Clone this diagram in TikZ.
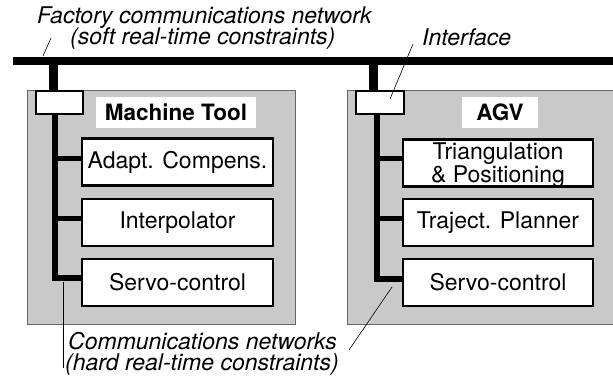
\documentclass[tikz,border=0pt]{standalone}
\usepackage{fontspec}
\setmainfont{TeX Gyre Heros}
\begin{document}
\begin{tikzpicture}[x=1pt,y=-1pt,
  panel/.style={draw=black!60, line width=0.8pt, fill=black!21},
  module/.style={draw, line width=2.4pt, fill=white, inner sep=0pt,
     font=\fontsize{23}{22}\selectfont, align=center, minimum height=47pt},
  modtext/.style={inner sep=0pt, font=\fontsize{23}{22.5}\selectfont, align=center},
  iface/.style={draw, line width=2pt, fill=white, minimum width=47pt, minimum height=23pt, inner sep=0pt},
  title/.style={fill=white, inner sep=0pt, minimum height=31pt, font=\bfseries\fontsize{22.5}{24}\selectfont},
  bus/.style={line width=8pt},
  stub/.style={line width=9pt},
  drop/.style={line width=6pt, line join=miter},
  branch/.style={line width=5pt},
  leader/.style={line width=0.6pt},
  note/.style={font=\itshape\fontsize{23}{18}\selectfont, inner sep=0pt, anchor=base west}]
\useasboundingbox (0,0) rectangle (613,379);

% panels
\path[panel] (27,90) rectangle (295,324);
\path[panel] (347,90) rectangle (615,324);

% panel titles
\node[title, minimum width=160pt] (mt) at (176,112.5) {Machine Tool};
\node[title, minimum width=76pt] (agv) at (500,112.5) {AGV};

% coordinates
\coordinate (busL) at (13,61);
\coordinate (busR) at (613,61);
\coordinate (tapL) at (53,61);
\coordinate (tapR) at (373,61);
\coordinate (dropL) at (55,105);
\coordinate (dropR) at (376.5,105);

% modules
\node[module, minimum width=191pt] (ad) at (177.5,162) {Adapt. Compens.};
\node[module, minimum width=191pt] (ip) at (177.5,222.5) {Interpolator};
\node[module, minimum width=191pt] (sv1) at (177.5,282.5) {Servo-control};
\node[module, minimum width=190pt] (tr) at (498,163) {};
\node[modtext] (trtext) at ([yshift=-2pt]tr.center) {Triangulation\\\& Positioning};
\node[module, minimum width=190pt] (tj) at (498,222.5) {Traject. Planner};
\node[module, minimum width=190pt] (sv2) at (498,282.5) {Servo-control};

% drops and branches
\draw[drop] (dropL) |- ([yshift=4.5pt]sv1.west);
\draw[drop] (dropR) |- ([yshift=3.5pt]sv2.west);
\draw[branch] ([yshift=3pt]ad.west) -- ++(-27,0);
\draw[branch] ([yshift=3.5pt]ip.west) -- ++(-27,0);
\draw[branch] ([yshift=4pt]tr.west) -- ++(-26.5,0);
\draw[branch] ([yshift=3.5pt]tj.west) -- ++(-26.5,0);

% interface boxes and stubs
\draw[stub] (tapL) -- (53,91);
\draw[stub] (tapR) -- (373,91);
\node[iface] (ifL) at (59.5,102.5) {};
\node[iface, minimum width=48pt] (ifR) at (380,103) {};

% bus
\draw[bus] (busL) -- (busR);

% annotations
\node[note] (fac) at (37,23.5) {Factory communications network};
\node[note] (soft) at (70,45) {(soft real-time constraints)};
\node[note] (intf) at (422,46) {Interface};
\node[note] (comm) at (68,349) {Communications networks};
\node[note] (hard) at (65,370) {(hard real-time constraints)};

% leaders
\coordinate (facA) at (43,56);
\coordinate (facB) at (51,38);
\draw[leader] (facA) -- (facB);
\coordinate (ifA) at (390,99);
\coordinate (ifB) at (413,44);
\draw[leader] (ifA) -- (ifB);
\coordinate (cmA) at (63,282);
\coordinate (cmB) at (63,368);
\draw[leader] (cmA) -- (cmB);
\coordinate (cmC) at (392,287);
\coordinate (cmD) at (349,350);
\draw[leader] (cmC) -- (cmD);
\end{tikzpicture}
\end{document}
